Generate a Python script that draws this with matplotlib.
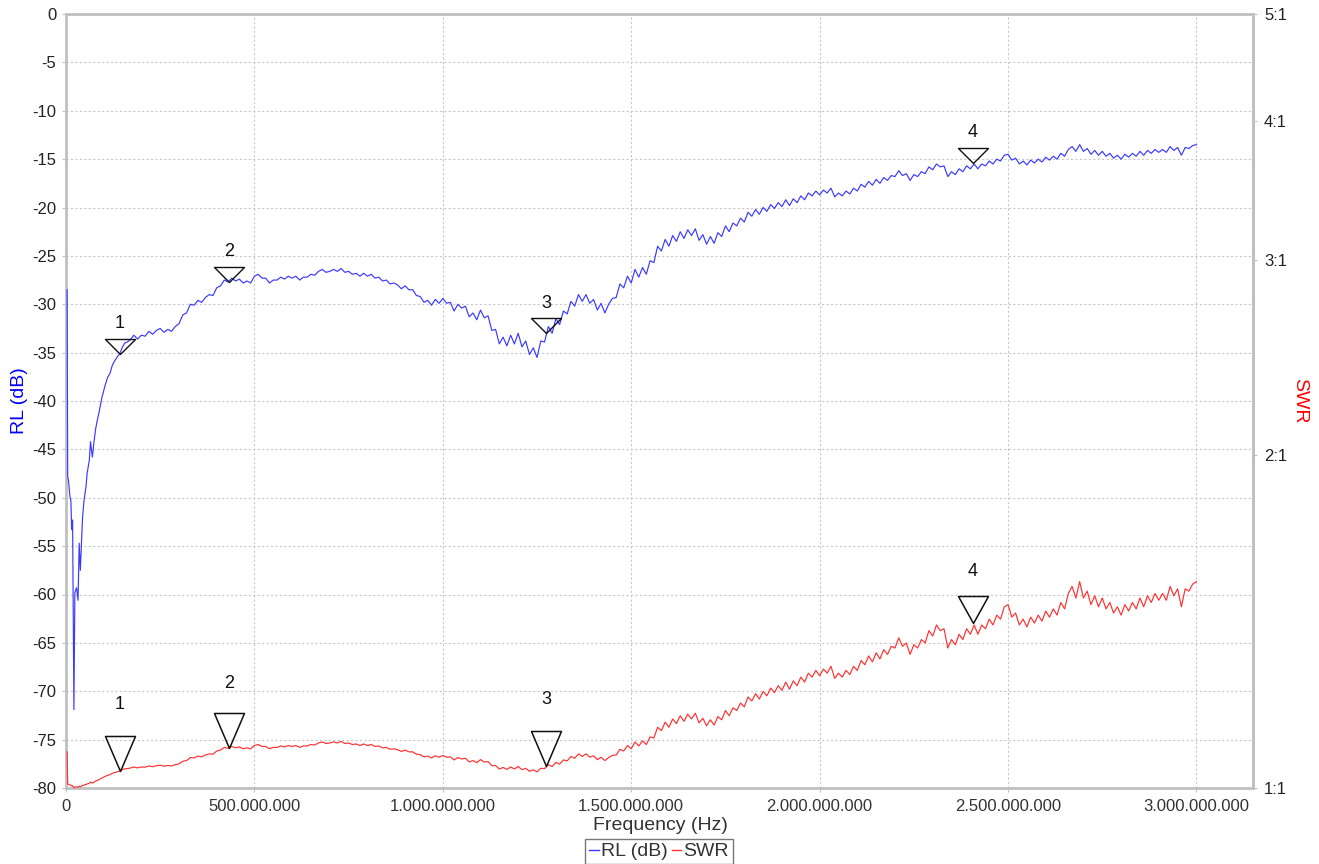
import numpy as np
import matplotlib
matplotlib.use("Agg")
import matplotlib.pyplot as plt
from matplotlib.path import Path
from matplotlib.ticker import FuncFormatter, FixedLocator, NullLocator
from matplotlib.lines import Line2D

plt.rcParams['font.family'] = ['Liberation Sans', 'DejaVu Sans']

# ---------------- data ----------------
# dense start of the sweep (MHz, dB)
start_freq_mhz = [3, 4.5, 6.5, 10.5, 13, 15, 17.5, 21, 23.5, 28, 32, 35, 38, 44, 48, 53,
                  56, 62, 65, 70, 74, 79, 83, 87, 95, 103, 110, 117, 123, 130, 137,
                  143, 150, 156, 163, 170]
start_rl_db = [-28.5, -47.8, -48.2, -49.9, -50.3, -53.3, -52.3, -71.9, -59.8, -59.3,
               -60.6, -54.7, -57.5, -52.0, -50.2, -48.9, -47.5, -46.1, -44.2, -45.8,
               -44.3, -42.8, -42.0, -41.3, -39.7, -38.5, -37.6, -37.1, -36.3, -35.8,
               -35.4, -35.1, -34.4, -34.0, -33.9, -33.7]

# main sweep: 180 MHz .. 3000 MHz, 10 MHz step (RL in dB)
sweep_start_mhz = 180
sweep_step_mhz = 10
sweep_rl_db = [
    -33.2, -33.6, -33.2, -33.3, -32.8, -33.1, -32.7, -32.5, -32.9, -32.6,
    -32.8, -32.3, -32.0, -31.1, -30.9, -30.0, -30.1, -29.6, -29.8, -29.3,
    -29.0, -29.1, -28.3, -28.1, -27.5, -27.7, -27.3, -27.6, -27.4, -27.8,
    -27.6, -27.8, -27.1, -26.9, -27.3, -27.3, -27.8, -27.5, -27.5, -27.2,
    -27.4, -27.1, -27.3, -27.1, -27.5, -27.2, -27.2, -26.9, -27.0, -26.6,
    -26.4, -26.7, -26.6, -26.4, -26.6, -26.3, -26.7, -26.6, -26.9, -26.8,
    -27.1, -26.8, -27.1, -26.9, -27.3, -27.2, -27.6, -27.5, -27.9, -27.8,
    -28.0, -28.4, -28.1, -28.5, -28.5, -29.1, -29.2, -29.8, -29.6, -30.1,
    -29.5, -29.9, -29.4, -29.9, -29.8, -30.7, -30.0, -30.4, -30.2, -31.3,
    -30.9, -31.6, -30.6, -31.4, -31.2, -32.7, -32.6, -34.1, -33.4, -34.3,
    -33.2, -34.1, -33.0, -34.4, -33.8, -35.2, -34.5, -35.5, -33.8, -33.9,
    -32.3, -33.0, -31.5, -32.1, -30.7, -31.0, -29.7, -30.2, -29.0, -29.7,
    -29.0, -29.9, -29.5, -30.6, -29.9, -30.9, -30.0, -29.4, -29.3, -27.9,
    -28.3, -27.1, -27.8, -26.4, -27.2, -26.2, -26.9, -25.5, -25.7, -24.0,
    -24.5, -23.3, -24.0, -22.9, -23.5, -22.5, -23.2, -22.3, -22.9, -22.2,
    -23.4, -22.8, -23.8, -23.0, -23.7, -22.6, -23.0, -21.9, -22.5, -21.6,
    -21.9, -21.1, -21.5, -20.5, -20.9, -20.2, -20.7, -20.0, -20.4, -19.7,
    -20.1, -19.5, -19.9, -19.2, -19.8, -19.1, -19.5, -18.8, -19.2, -18.5,
    -18.8, -18.3, -18.7, -18.2, -18.5, -18.0, -18.9, -18.5, -18.8, -18.3,
    -18.6, -18.0, -18.3, -17.6, -17.9, -17.3, -17.7, -17.1, -17.5, -16.9,
    -17.2, -16.7, -16.8, -16.2, -16.7, -16.5, -17.2, -16.6, -16.8, -16.3,
    -16.5, -15.8, -16.1, -15.5, -15.8, -15.7, -16.8, -16.3, -16.6, -16.0,
    -16.3, -15.7, -16.0, -15.5, -16.0, -15.5, -15.7, -15.2, -15.5, -15.0,
    -15.2, -14.6, -14.5, -15.1, -14.9, -15.5, -15.2, -15.6, -15.1, -15.4,
    -15.0, -15.3, -14.8, -15.1, -14.7, -15.0, -14.4, -14.7, -14.0, -13.7,
    -14.2, -13.5, -14.2, -13.9, -14.5, -14.1, -14.6, -14.2, -14.7, -14.4,
    -14.9, -14.6, -15.0, -14.5, -14.8, -14.4, -14.7, -14.2, -14.6, -14.1,
    -14.4, -14.0, -14.3, -14.0, -14.3, -13.7, -14.1, -13.8, -14.6, -13.8,
    -13.9, -13.6, -13.5,
]

marker_labels = ['1', '2', '3', '4']
marker_freq_mhz = [143, 432, 1275, 2407]
marker_rl_db = [-35.1, -27.7, -33.0, -15.4]

x_ticks_hz = [0, 500e6, 1000e6, 1500e6, 2000e6, 2500e6, 3000e6]
rl_ticks_db = list(range(-80, 1, 5))
swr_ticks = [1, 2, 3, 4, 5]
swr_tick_labels = ['1:1', '2:1', '3:1', '4:1', '5:1']

# ---------------- derived ----------------
def rl_to_swr(rl_db):
    g = 10 ** (np.asarray(rl_db, dtype=float) / 20.0)
    return (1 + g) / (1 - g)

sweep_freq_mhz = sweep_start_mhz + sweep_step_mhz * np.arange(len(sweep_rl_db))
freq_hz = np.concatenate([start_freq_mhz, sweep_freq_mhz]) * 1e6
rl_db = np.concatenate([start_rl_db, sweep_rl_db])
swr = rl_to_swr(rl_db)
m_freq_hz = np.array(marker_freq_mhz) * 1e6
m_swr = rl_to_swr(marker_rl_db)

# ---------------- style ----------------
W, H, DPI = 1319, 864, 100
PX = 72.0 / DPI  # px -> points
BLUE = '#3a3aff'
RED = '#ff3030'
GRID = '#c8c8c8'
SPINE = '#c0c0c0'
TXT = '#333333'

fig = plt.figure(figsize=(W / DPI, H / DPI), dpi=DPI)
L, R, T, B = 66, 1253, 14, 788
ax = fig.add_axes([L / W, 1 - B / H, (R - L) / W, (B - T) / H])
ax2 = ax.twinx()

ax.plot(freq_hz, rl_db, color=BLUE, lw=0.85, zorder=3)
ax2.plot(freq_hz, swr, color=RED, lw=0.85, zorder=3)

ax.set_xlim(0, 3.15e9)
ax.set_ylim(-80, 0)
ax2.set_yscale('log')
ax2.set_ylim(1, 5)

# axis ticks
ax.xaxis.set_major_locator(FixedLocator(x_ticks_hz))
ax.xaxis.set_major_formatter(FuncFormatter(lambda v, p: f"{int(round(v)):,}".replace(',', '.')))
ax.yaxis.set_major_locator(FixedLocator(rl_ticks_db))
ax.yaxis.set_major_formatter(FuncFormatter(lambda v, p: f"{int(v)}"))
ax2.yaxis.set_major_locator(FixedLocator(swr_ticks))
ax2.yaxis.set_minor_locator(NullLocator())
ax2.set_yticklabels(swr_tick_labels)

ax.tick_params(axis='x', length=3, pad=5, labelsize=12, labelcolor=TXT, color=SPINE)
ax.tick_params(axis='y', length=3, pad=4, labelsize=12, labelcolor='#222222', color=SPINE)
ax2.tick_params(axis='y', length=3, pad=5, labelsize=12, labelcolor='#222222', color=SPINE)

ax.grid(True, color=GRID, linestyle=(0, (2, 2)), linewidth=0.8)
ax.set_axisbelow(True)
for s in ax.spines.values():
    s.set_color(SPINE)
    s.set_linewidth(2)
for name, s in ax2.spines.items():
    if name == 'right':
        s.set_color(SPINE)
        s.set_linewidth(2)
    else:
        s.set_visible(False)

# markers on RL trace
tri_blue = Path([(-1, 1), (1, 1), (0, 0), (-1, 1)],
                [Path.MOVETO, Path.LINETO, Path.LINETO, Path.CLOSEPOLY])
ax.plot(m_freq_hz, marker_rl_db, linestyle='none', marker=tri_blue,
        ms=30 * PX, mfc='none', mec='#111111', mew=1.0, zorder=5)
for lab, fx, fy in zip(marker_labels, m_freq_hz, marker_rl_db):
    ax.annotate(lab, xy=(fx, fy), xytext=(0, 30 * PX), textcoords='offset points',
                ha='center', va='center', fontsize=13, color='#111111', zorder=6)

# markers on SWR trace
red_tri_h_px = [35, 35, 35, 27]
red_lab_off_px = [67, 65, 67, 52]
for lab, fx, fy, hh, off in zip(marker_labels, m_freq_hz, m_swr, red_tri_h_px, red_lab_off_px):
    tri = Path([(-15, hh), (15, hh), (0, 0), (-15, hh)],
               [Path.MOVETO, Path.LINETO, Path.LINETO, Path.CLOSEPOLY])
    ax2.plot([fx], [fy], linestyle='none', marker=tri, ms=2 * hh * PX,
             mfc='none', mec='#111111', mew=1.1, zorder=5)
    ax2.annotate(lab, xy=(fx, fy), xytext=(0, off * PX), textcoords='offset points',
                 ha='center', va='center', fontsize=13, color='#111111', zorder=6)

# labels
fig.text(660 / W, 1 - 825 / H, 'Frequency (Hz)', ha='center', va='center',
         fontsize=14, color=TXT)
fig.text(19 / W, 1 - 401 / H, 'RL (dB)', ha='center', va='center', rotation=90,
         fontsize=14, color='#0000ff')
fig.text(1300 / W, 1 - 401 / H, 'SWR', ha='center', va='center', rotation=-90,
         fontsize=14, color='#ff0000')

handles = [Line2D([], [], color=BLUE, lw=1), Line2D([], [], color=RED, lw=1)]
leg = fig.legend(handles, ['RL (dB)', 'SWR'], loc='upper center',
                 bbox_to_anchor=(659 / W, 1 - 839 / H), ncol=2, frameon=True,
                 fancybox=False, edgecolor='#555555', handlelength=0.5,
                 handletextpad=0.1, columnspacing=0.2, borderpad=0.2,
                 borderaxespad=0, fontsize=14)
leg.get_frame().set_linewidth(1.0)
for t in leg.get_texts():
    t.set_color(TXT)

fig.savefig('out.png', dpi=DPI)
